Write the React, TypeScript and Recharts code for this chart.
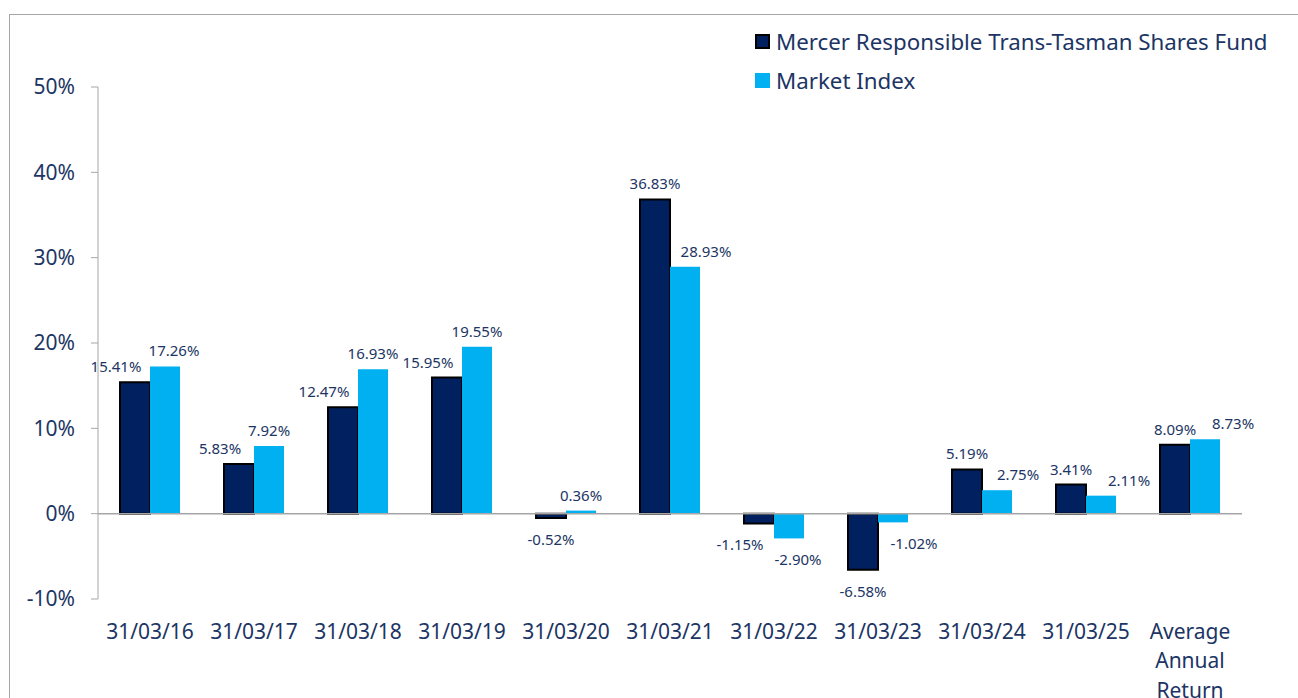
import { BarChart, Bar, XAxis, YAxis, ReferenceLine, LabelList } from 'recharts';

const categories = ['31/03/16', '31/03/17', '31/03/18', '31/03/19', '31/03/20', '31/03/21', '31/03/22', '31/03/23', '31/03/24', '31/03/25', 'Average Annual Return'];
const fundReturns = [15.41, 5.83, 12.47, 15.95, -0.52, 36.83, -1.15, -6.58, 5.19, 3.41, 8.09];
const indexReturns = [17.26, 7.92, 16.93, 19.55, 0.36, 28.93, -2.9, -1.02, 2.75, 2.11, 8.73];
const yTicks = [-10, 0, 10, 20, 30, 40, 50];

const FUND = 'Mercer Responsible Trans-Tasman Shares Fund';
const INDEX = 'Market Index';

const NAVY = '#1c3564';
const DARK = '#002060';
const LIGHT = '#00b0f0';
const GRID = '#a6a6a6';
const FONT = '"Noto Sans", "Open Sans", sans-serif';

const data = categories.map((c, i) => ({ name: c, fund: fundReturns[i], index: indexReturns[i] }));

// rough Excel-like placement: above positive bars, below negative ones,
// moved sideways when the neighbour bar or the neighbour label is in the way
const LABEL_W = 52;
const LABEL_H = 17;
const ABOVE = 16;
const BELOW = 21;

function placeLabels(fund: number, idx: number, pxPerUnit: number) {
  const edge = (v: number) => -v * pxPerUnit; // bar end relative to zero line
  const cy = (v: number) => (v >= 0 ? edge(v) - ABOVE : edge(v) + BELOW);
  const fy = cy(fund);
  const iy = cy(idx);
  let fdx = 0;
  let idxDx = 0;
  const sameSign = fund * idx > 0;
  if (sameSign && Math.abs(idx) > Math.abs(fund)) {
    const barEnd = edge(idx);
    const occluded = fund > 0 ? barEnd < fy + LABEL_H / 2 : barEnd > fy - LABEL_H / 2;
    if (occluded) fdx = -19;
  }
  if (sameSign && Math.abs(fund) > Math.abs(idx)) {
    const barEnd = edge(fund);
    const occluded = idx > 0 ? barEnd < iy + LABEL_H / 2 : barEnd > iy - LABEL_H / 2;
    if (occluded) idxDx = 21;
  }
  // label to label collision (bar centres are 30px apart)
  if (Math.abs(fy - iy) < LABEL_H) {
    const gap = 30 + idxDx - fdx - LABEL_W;
    if (gap < 6) idxDx += 6 - gap;
  }
  return { fdx, idxDx };
}

function makeLabel(series: 'fund' | 'index') {
  return (props: any) => {
    const { x, y, width, height, value, index } = props;
    const pxPerUnit = value !== 0 ? Math.abs(height / value) : 1;
    const { fdx, idxDx } = placeLabels(fundReturns[index], indexReturns[index], pxPerUnit);
    const dx = series === 'fund' ? fdx : idxDx;
    const top = Math.min(y, y + height);
    const bottom = Math.max(y, y + height);
    const cy = value >= 0 ? top - ABOVE : bottom + BELOW;
    return (
      <text x={x + width / 2 + dx} y={cy} textAnchor="middle" dominantBaseline="central" fontSize={15} fill={NAVY} fontFamily={FONT}>
        {value.toFixed(2)}%
      </text>
    );
  };
}

const XTick = (props: any) => {
  const { x, y, payload } = props;
  const label: string = payload.value;
  const lines = label.length > 10 ? label.split(' ') : [label];
  return (
    <text x={x} y={y} textAnchor="middle" fontSize={21} fill={NAVY} fontFamily={FONT}>
      {lines.map((l, i) => (
        <tspan key={i} x={x} dy={i === 0 ? '0.85em' : 29.5}>
          {l}
        </tspan>
      ))}
    </text>
  );
};

export default function App() {
  return (
    <div style={{ position: 'fixed', left: 9, top: 14, width: 1289, height: 684, overflow: 'hidden', borderLeft: `1px solid ${GRID}`, borderTop: `1px solid ${GRID}`, background: '#fff', fontFamily: FONT }}>
      <BarChart width={1288} height={720} data={data} margin={{ top: 72, right: 56, left: 28, bottom: 96 }} barSize={30} barGap={0}>
        <YAxis
          domain={[-10, 50]}
          ticks={yTicks}
          width={60}
          tickFormatter={(v: number) => `${v}%`}
          tick={{ fill: NAVY, fontSize: 21, fontFamily: FONT }}
          stroke={GRID}
          tickSize={7}
          tickMargin={16}
          interval={0}
        />
        <XAxis dataKey="name" axisLine={false} tickLine={false} tickSize={6} tickMargin={16} interval={0} tick={<XTick />} height={40} />
        <ReferenceLine y={0} stroke={GRID} strokeWidth={1.5} />
        <Bar dataKey="fund" name={FUND} fill={DARK} stroke="#000" strokeWidth={2} isAnimationActive={false}>
          <LabelList dataKey="fund" content={makeLabel('fund')} />
        </Bar>
        <Bar dataKey="index" name={INDEX} fill={LIGHT} isAnimationActive={false}>
          <LabelList dataKey="index" content={makeLabel('index')} />
        </Bar>
      </BarChart>
      <div style={{ position: 'absolute', left: 745, top: 11 }}>
        {[{ label: FUND, color: DARK, border: '2px solid #000' }, { label: INDEX, color: LIGHT, border: 'none' }].map((d, i) => (
          <div key={i} style={{ display: 'flex', alignItems: 'center', height: 30, marginBottom: 9 }}>
            <div style={{ width: 15, height: 15, boxSizing: 'border-box', background: d.color, border: d.border }} />
            <span style={{ marginLeft: 6, fontSize: 22.3, color: NAVY, whiteSpace: 'nowrap' }}>{d.label}</span>
          </div>
        ))}
      </div>
    </div>
  );
}
